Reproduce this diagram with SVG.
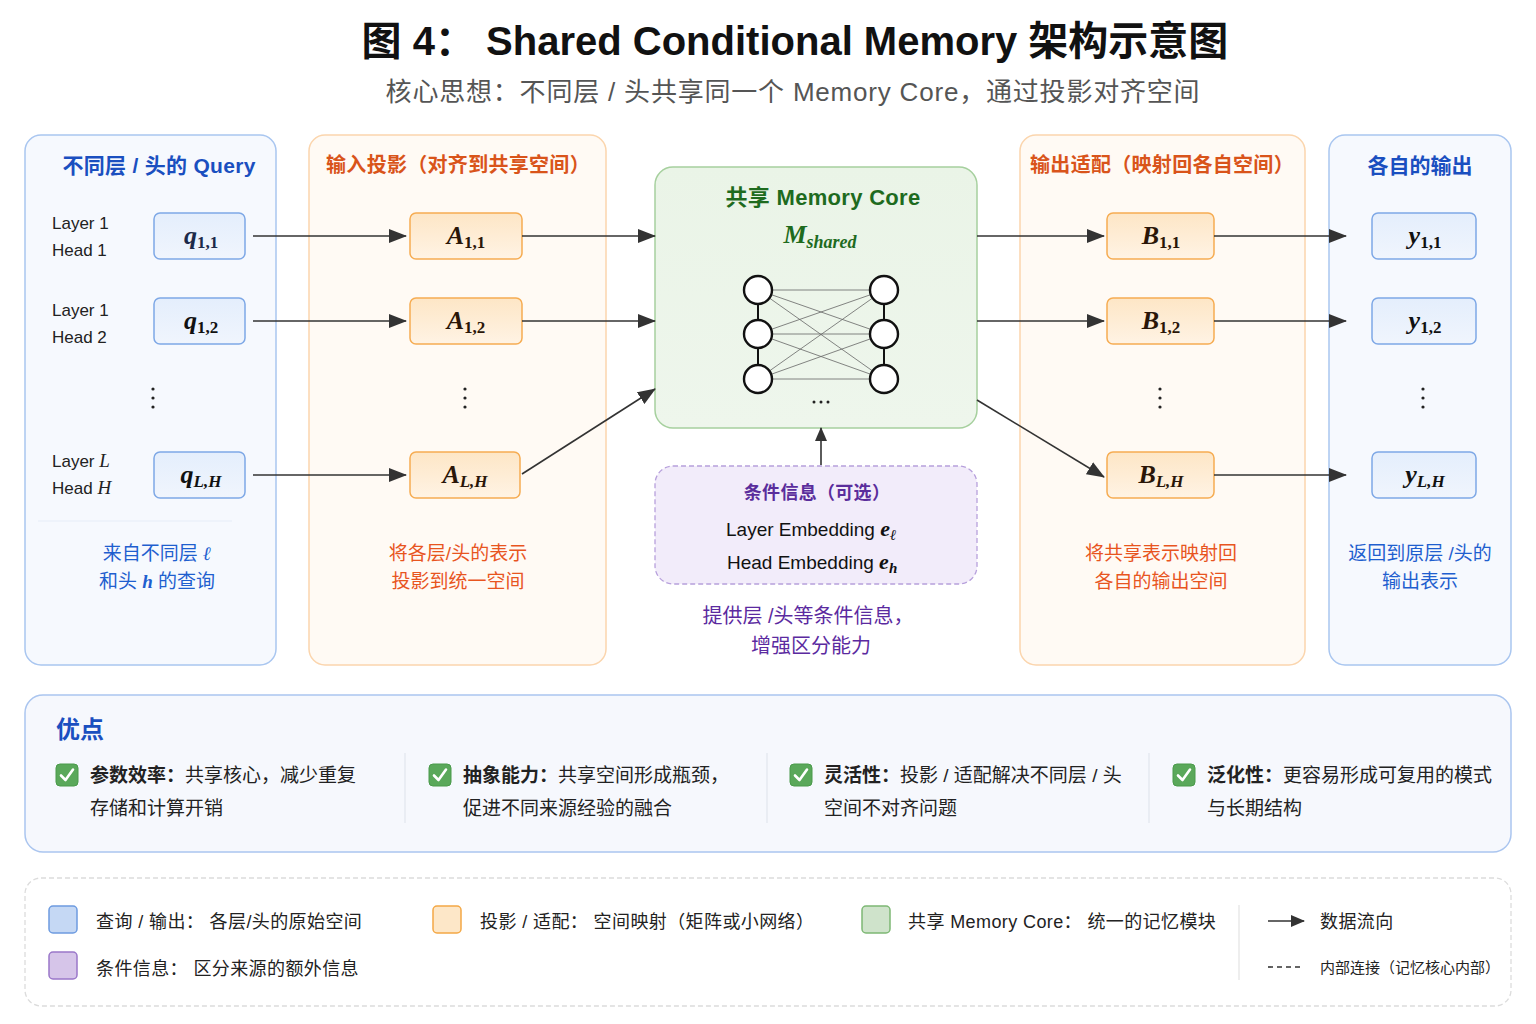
<svg xmlns="http://www.w3.org/2000/svg" width="1536" height="1024" viewBox="0 0 1536 1024">
<defs>
<style>
.t{font-family:"Liberation Sans","Noto Sans CJK SC",sans-serif}
.cjk{font-family:"Noto Sans CJK SC","Liberation Sans",sans-serif}
.m{font-family:"Liberation Serif","DejaVu Serif",serif;font-weight:bold}
.panelB{fill:#f6f9fe;stroke:#a9c6f0;stroke-width:1.5}
.panelO{fill:#fffaf4;stroke:#fbd5ad;stroke-width:1.5}
.qbox{fill:url(#gB);stroke:#7ea8e6;stroke-width:1.5}
.abox{fill:url(#gO);stroke:#f6ac52;stroke-width:1.5}
.hdB{fill:#1a4fc0;font-size:21px;font-weight:bold}
.hdO{fill:#d9541a;font-size:20px;font-weight:bold}
.lbl{fill:#222;font-size:17px}
.conn{stroke:#333;stroke-width:1.6;fill:none}
.net{stroke:#666;stroke-width:0.8}
.circ{fill:#fff;stroke:#111;stroke-width:2.4}
.dot{fill:#222}
.adv{font-size:19px;fill:#222}
.leg{font-size:18px;fill:#222;letter-spacing:0.4px}
.mv{font-size:26px}
.sb{font-size:17px}
</style>
<linearGradient id="gB" x1="0" y1="0" x2="0" y2="1"><stop offset="0" stop-color="#e4eefc"/><stop offset="1" stop-color="#f0f5fd"/></linearGradient>
<linearGradient id="gO" x1="0" y1="0" x2="0" y2="1"><stop offset="0" stop-color="#fde6c6"/><stop offset="1" stop-color="#fff3e4"/></linearGradient>
<linearGradient id="gG" x1="0" y1="0" x2="0" y2="1"><stop offset="0" stop-color="#eaf4e7"/><stop offset="1" stop-color="#eef6ec"/></linearGradient>
<marker id="arr" markerUnits="userSpaceOnUse" markerWidth="18" markerHeight="14" refX="17" refY="7" orient="auto">
<path d="M0,0 L18,7 L0,14 Z" fill="#333"/>
</marker>
<marker id="arrS" markerUnits="userSpaceOnUse" markerWidth="14" markerHeight="12" refX="13" refY="6" orient="auto">
<path d="M0,0 L14,6 L0,12 Z" fill="#333"/>
</marker>
<g id="chk">
<rect x="0" y="0" width="22" height="22" rx="4" fill="#5aa85a" stroke="#4a9a4a"/>
<path d="M5,11.5 L9.5,16 L17,5.5" fill="none" stroke="#fff" stroke-width="2.6" stroke-linecap="round" stroke-linejoin="round"/>
</g>
</defs>
<rect width="1536" height="1024" fill="#ffffff"/>

<g id="title">
<text class="t" x="795" y="55" text-anchor="middle" font-size="40" font-weight="bold" fill="#111">图 4： Shared Conditional Memory 架构示意图</text>
<text class="t" x="793" y="101" text-anchor="middle" font-size="26" letter-spacing="0.8" fill="#555">核心思想：不同层 / 头共享同一个 Memory Core，通过投影对齐空间</text>
</g>

<g id="panel-query">
<rect class="panelB" x="25" y="135" width="251" height="530" rx="16"/>
<text class="t hdB" x="159" y="173" text-anchor="middle" letter-spacing="0.3">不同层 / 头的 Query</text>
<line x1="38" y1="521" x2="232" y2="521" stroke="#e6edf8" stroke-width="1"/>
<text class="t lbl" x="52" y="229">Layer 1</text>
<text class="t lbl" x="52" y="256">Head 1</text>
<text class="t lbl" x="52" y="316">Layer 1</text>
<text class="t lbl" x="52" y="343">Head 2</text>
<text class="t lbl" x="52" y="467">Layer <tspan font-family="Liberation Serif" font-style="italic" font-size="19">L</tspan></text>
<text class="t lbl" x="52" y="494">Head <tspan font-family="Liberation Serif" font-style="italic" font-size="19">H</tspan></text>
<text class="t" x="157" y="560" text-anchor="middle" font-size="19" fill="#1f5fcf">来自不同层 <tspan font-family="Liberation Serif" font-style="italic" font-weight="bold">ℓ</tspan></text>
<text class="t" x="157" y="588" text-anchor="middle" font-size="19" fill="#1f5fcf">和头 <tspan font-family="Liberation Serif" font-style="italic" font-weight="bold">h</tspan> 的查询</text>
<circle class="dot" cx="153" cy="389" r="1.6"/><circle class="dot" cx="153" cy="398" r="1.6"/><circle class="dot" cx="153" cy="407" r="1.6"/>
</g>
<g id="q11"><rect class="qbox" x="154" y="213" width="91" height="46" rx="6"/><text class="m mv" x="201" y="244" text-anchor="middle" fill="#1c2a4a"><tspan font-style="italic">q</tspan><tspan class="sb" dy="4">1,1</tspan></text></g>
<g id="q12"><rect class="qbox" x="154" y="298" width="91" height="46" rx="6"/><text class="m mv" x="201" y="329" text-anchor="middle" fill="#111"><tspan font-style="italic">q</tspan><tspan class="sb" dy="4">1,2</tspan></text></g>
<g id="qLH"><rect class="qbox" x="154" y="452" width="91" height="46" rx="6"/><text class="m mv" x="201" y="483" text-anchor="middle" fill="#111"><tspan font-style="italic">q</tspan><tspan class="sb" dy="4" font-style="italic">L,H</tspan></text></g>

<g id="panel-in">
<rect class="panelO" x="309" y="135" width="297" height="530" rx="16"/>
<text class="t hdO" x="458" y="172" text-anchor="middle" letter-spacing="0.3">输入投影（对齐到共享空间）</text>
<circle class="dot" cx="465" cy="389" r="1.6"/><circle class="dot" cx="465" cy="398" r="1.6"/><circle class="dot" cx="465" cy="407" r="1.6"/>
<text class="t" x="458" y="560" text-anchor="middle" font-size="19" fill="#e8551f">将各层/头的表示</text>
<text class="t" x="458" y="588" text-anchor="middle" font-size="19" fill="#e8551f">投影到统一空间</text>
</g>
<g id="A11"><rect class="abox" x="410" y="213" width="112" height="46" rx="6"/><text class="m mv" x="466" y="244" text-anchor="middle" fill="#2a1608"><tspan font-style="italic">A</tspan><tspan class="sb" dy="4">1,1</tspan></text></g>
<g id="A12"><rect class="abox" x="410" y="298" width="112" height="46" rx="6"/><text class="m mv" x="466" y="329" text-anchor="middle" fill="#2a1608"><tspan font-style="italic">A</tspan><tspan class="sb" dy="4">1,2</tspan></text></g>
<g id="ALH"><rect class="abox" x="410" y="452" width="110" height="46" rx="6"/><text class="m mv" x="465" y="483" text-anchor="middle" fill="#2a1608"><tspan font-style="italic">A</tspan><tspan class="sb" dy="4" font-style="italic">L,H</tspan></text></g>

<g id="core">
<rect x="655" y="167" width="322" height="261" rx="18" fill="url(#gG)" stroke="#a6d09e" stroke-width="1.5"/>
<text class="t" x="823" y="205" text-anchor="middle" font-size="22" font-weight="bold" fill="#1e6b1e" letter-spacing="0.3">共享 Memory Core</text>
<text class="m" x="820" y="243" text-anchor="middle" font-size="26" fill="#1e6b1e"><tspan font-style="italic">M</tspan><tspan font-size="18" dy="5" font-style="italic">shared</tspan></text>
<g>
<line class="net" x1="758" y1="290" x2="884" y2="290"/><line class="net" x1="758" y1="290" x2="884" y2="334"/><line class="net" x1="758" y1="290" x2="884" y2="379"/>
<line class="net" x1="758" y1="334" x2="884" y2="290"/><line class="net" x1="758" y1="334" x2="884" y2="334"/><line class="net" x1="758" y1="334" x2="884" y2="379"/>
<line class="net" x1="758" y1="379" x2="884" y2="290"/><line class="net" x1="758" y1="379" x2="884" y2="334"/><line class="net" x1="758" y1="379" x2="884" y2="379"/>
<line x1="758" y1="290" x2="758" y2="379" stroke="#111" stroke-width="2"/>
<line x1="884" y1="290" x2="884" y2="379" stroke="#111" stroke-width="2"/>
<circle class="circ" cx="758" cy="290" r="14"/><circle class="circ" cx="758" cy="334" r="14"/><circle class="circ" cx="758" cy="379" r="14"/>
<circle class="circ" cx="884" cy="290" r="14"/><circle class="circ" cx="884" cy="334" r="14"/><circle class="circ" cx="884" cy="379" r="14"/>
<circle class="dot" cx="814" cy="402" r="1.5"/><circle class="dot" cx="821" cy="402" r="1.5"/><circle class="dot" cx="828" cy="402" r="1.5"/>
</g>
</g>

<g id="cond">
<rect x="655" y="466" width="322" height="118" rx="18" fill="#f2ecfa" stroke="#b7a0dc" stroke-width="1.3" stroke-dasharray="5,3"/>
<text class="t" x="817" y="499" text-anchor="middle" font-size="18" font-weight="bold" fill="#5a2d9c" letter-spacing="0.3">条件信息（可选）</text>
<text class="t" x="726" y="536" font-size="19" fill="#111">Layer Embedding  <tspan class="m" font-style="italic" font-size="22">e</tspan><tspan class="m" font-style="italic" font-size="15" dy="4">ℓ</tspan></text>
<text class="t" x="727" y="569" font-size="19" fill="#111">Head Embedding  <tspan class="m" font-style="italic" font-size="22">e</tspan><tspan class="m" font-style="italic" font-size="15" dy="4">h</tspan></text>
<text class="t" x="808" y="623" text-anchor="middle" font-size="20" fill="#5b2aa0">提供层 /头等条件信息，</text>
<text class="t" x="811" y="653" text-anchor="middle" font-size="20" fill="#5b2aa0">增强区分能力</text>
</g>

<g id="panel-out">
<rect class="panelO" x="1020" y="135" width="285" height="530" rx="16"/>
<text class="t hdO" x="1162" y="172" text-anchor="middle" letter-spacing="0.3">输出适配（映射回各自空间）</text>
<circle class="dot" cx="1160" cy="389" r="1.6"/><circle class="dot" cx="1160" cy="398" r="1.6"/><circle class="dot" cx="1160" cy="407" r="1.6"/>
<text class="t" x="1161" y="560" text-anchor="middle" font-size="19" fill="#e8551f">将共享表示映射回</text>
<text class="t" x="1161" y="588" text-anchor="middle" font-size="19" fill="#e8551f">各自的输出空间</text>
</g>
<g id="B11"><rect class="abox" x="1107" y="213" width="107" height="46" rx="6"/><text class="m mv" x="1161" y="244" text-anchor="middle" fill="#2a1608"><tspan font-style="italic">B</tspan><tspan class="sb" dy="4">1,1</tspan></text></g>
<g id="B12"><rect class="abox" x="1107" y="298" width="107" height="46" rx="6"/><text class="m mv" x="1161" y="329" text-anchor="middle" fill="#2a1608"><tspan font-style="italic">B</tspan><tspan class="sb" dy="4">1,2</tspan></text></g>
<g id="BLH"><rect class="abox" x="1107" y="452" width="107" height="46" rx="6"/><text class="m mv" x="1161" y="483" text-anchor="middle" fill="#2a1608"><tspan font-style="italic">B</tspan><tspan class="sb" dy="4" font-style="italic">L,H</tspan></text></g>

<g id="panel-y">
<rect class="panelB" x="1329" y="135" width="182" height="530" rx="16"/>
<text class="t hdB" x="1420" y="173" text-anchor="middle">各自的输出</text>
<circle class="dot" cx="1423" cy="389" r="1.6"/><circle class="dot" cx="1423" cy="398" r="1.6"/><circle class="dot" cx="1423" cy="407" r="1.6"/>
<text class="t" x="1420" y="560" text-anchor="middle" font-size="19" fill="#1f5fcf">返回到原层 /头的</text>
<text class="t" x="1420" y="588" text-anchor="middle" font-size="19" fill="#1f5fcf">输出表示</text>
</g>
<g id="y11"><rect class="qbox" x="1372" y="213" width="104" height="46" rx="6"/><text class="m mv" x="1425" y="244" text-anchor="middle" fill="#111"><tspan font-style="italic">y</tspan><tspan class="sb" dy="4">1,1</tspan></text></g>
<g id="y12"><rect class="qbox" x="1372" y="298" width="104" height="46" rx="6"/><text class="m mv" x="1425" y="329" text-anchor="middle" fill="#111"><tspan font-style="italic">y</tspan><tspan class="sb" dy="4">1,2</tspan></text></g>
<g id="yLH"><rect class="qbox" x="1372" y="452" width="104" height="46" rx="6"/><text class="m mv" x="1425" y="483" text-anchor="middle" fill="#111"><tspan font-style="italic">y</tspan><tspan class="sb" dy="4" font-style="italic">L,H</tspan></text></g>

<g id="connectors">
<line class="conn" x1="253" y1="236" x2="406" y2="236" marker-end="url(#arr)"/>
<line class="conn" x1="253" y1="321" x2="406" y2="321" marker-end="url(#arr)"/>
<line class="conn" x1="253" y1="475" x2="406" y2="475" marker-end="url(#arr)"/>
<line class="conn" x1="522" y1="236" x2="655" y2="236" marker-end="url(#arr)"/>
<line class="conn" x1="522" y1="321" x2="655" y2="321" marker-end="url(#arr)"/>
<line class="conn" x1="522" y1="474" x2="655" y2="389" marker-end="url(#arr)"/>
<line class="conn" x1="977" y1="236" x2="1104" y2="236" marker-end="url(#arr)"/>
<line class="conn" x1="977" y1="321" x2="1104" y2="321" marker-end="url(#arr)"/>
<line class="conn" x1="977" y1="400" x2="1104" y2="477" marker-end="url(#arr)"/>
<line class="conn" x1="1214" y1="236" x2="1346" y2="236" marker-end="url(#arr)"/>
<line class="conn" x1="1214" y1="321" x2="1346" y2="321" marker-end="url(#arr)"/>
<line class="conn" x1="1214" y1="475" x2="1346" y2="475" marker-end="url(#arr)"/>
<line class="conn" x1="821" y1="465" x2="821" y2="428" marker-end="url(#arrS)"/>
</g>

<g id="advantages">
<rect x="25" y="695" width="1486" height="157" rx="18" fill="#f6f8fd" stroke="#aac5ef" stroke-width="1.5"/>
<text class="t" x="56" y="738" font-size="24" font-weight="bold" fill="#1a4fc0">优点</text>
<line x1="405" y1="753" x2="405" y2="823" stroke="#dde2ea"/>
<line x1="767" y1="753" x2="767" y2="823" stroke="#dde2ea"/>
<line x1="1149" y1="753" x2="1149" y2="823" stroke="#dde2ea"/>
<use href="#chk" x="56" y="764"/>
<use href="#chk" x="429" y="764"/>
<use href="#chk" x="790" y="764"/>
<use href="#chk" x="1173" y="764"/>
<text class="t adv" x="90" y="782"><tspan font-weight="bold">参数效率：</tspan>共享核心，减少重复</text>
<text class="t adv" x="90" y="815">存储和计算开销</text>
<text class="t adv" x="463" y="782"><tspan font-weight="bold">抽象能力：</tspan>共享空间形成瓶颈，</text>
<text class="t adv" x="463" y="815">促进不同来源经验的融合</text>
<text class="t adv" x="824" y="782"><tspan font-weight="bold">灵活性：</tspan>投影 / 适配解决不同层 / 头</text>
<text class="t adv" x="824" y="815">空间不对齐问题</text>
<text class="t adv" x="1207" y="782"><tspan font-weight="bold">泛化性：</tspan>更容易形成可复用的模式</text>
<text class="t adv" x="1207" y="815">与长期结构</text>
</g>

<g id="legend">
<rect x="25" y="878" width="1486" height="128" rx="16" fill="#ffffff" stroke="#dcdcdc" stroke-width="1.3" stroke-dasharray="5,3"/>
<rect x="49" y="906" width="28" height="27" rx="4" fill="#c5d8f4" stroke="#6d9be0" stroke-width="1.5"/>
<text class="t leg" x="96" y="928">查询 / 输出： 各层/头的原始空间</text>
<rect x="433" y="906" width="28" height="27" rx="4" fill="#fde7c8" stroke="#f4a845" stroke-width="1.5"/>
<text class="t leg" x="480" y="928">投影 / 适配： 空间映射（矩阵或小网络）</text>
<rect x="862" y="906" width="28" height="27" rx="4" fill="#cfe3cb" stroke="#7db874" stroke-width="1.5"/>
<text class="t leg" x="908" y="928">共享 Memory Core： 统一的记忆模块</text>
<rect x="49" y="952" width="28" height="27" rx="4" fill="#d6c5e9" stroke="#9a77c9" stroke-width="1.5"/>
<text class="t leg" x="96" y="975">条件信息： 区分来源的额外信息</text>
<line x1="1239" y1="905" x2="1239" y2="980" stroke="#dddddd"/>
<line x1="1268" y1="921" x2="1304" y2="921" stroke="#333" stroke-width="1.6" marker-end="url(#arrS)"/>
<text class="t leg" x="1320" y="928">数据流向</text>
<line x1="1268" y1="967" x2="1304" y2="967" stroke="#333" stroke-width="1.6" stroke-dasharray="5,4"/>
<text class="t" x="1320" y="973" font-size="15" fill="#222">内部连接（记忆核心内部）</text>
</g>
</svg>
